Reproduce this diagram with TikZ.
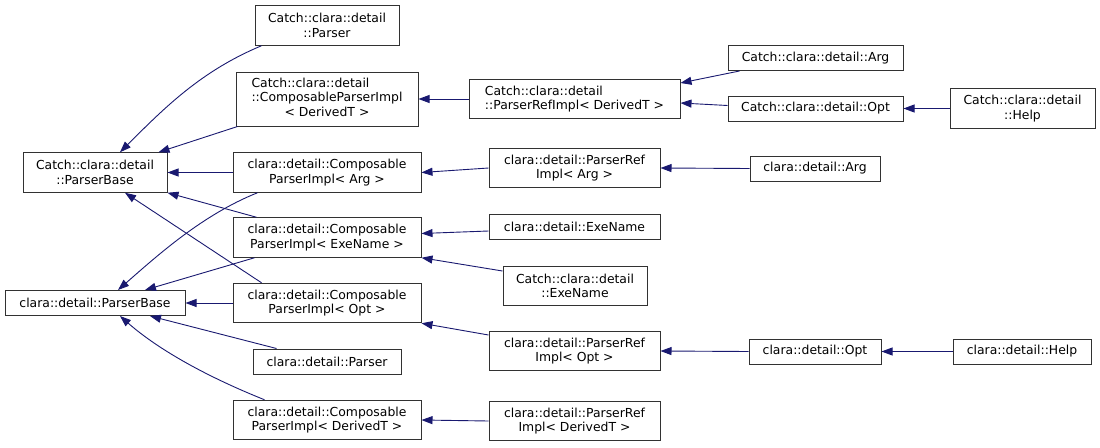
\documentclass[tikz,border=0pt]{standalone}
\usepackage{fontspec}
\setmainfont{DejaVu Sans}
\usepackage{tikz}
\usetikzlibrary{arrows.meta,positioning,calc}
\definecolor{edgeblue}{RGB}{25,25,112}
\definecolor{boxgray}{RGB}{50,50,50}

\begin{document}
\begin{tikzpicture}[
        x=1pt, y=-1pt,
        box/.style={rectangle, draw=boxgray, line width=1pt, fill=white, text=black,
            inner sep=1pt, align=center,
            font=\fontsize{12.4}{14.6}\selectfont},
        one/.style={box, minimum width=#1, minimum height=25pt},
        two/.style={box, minimum width=#1, minimum height=39.5pt},
        inh/.style={draw=edgeblue, line width=0.9pt,
            -{Triangle[length=11pt,width=8pt]}, fill=none}
    ]
        \useasboundingbox (0,0) rectangle (1100,447);

        % bases
        \node[two=144] (cpb) at (95,172.5) {Catch::clara::detail\\::ParserBase};
        \node[one=180] (pb) at (95,303) {clara::detail::ParserBase};

        % first level
        \node[two=144] (cparser) at (327,25.5) {Catch::clara::detail\\::Parser};
        \node[box, minimum width=182, minimum height=54] (ccpi) at (327,99)
            {\begin{tabular}{@{}l@{}}Catch::clara::detail\\::ComposableParserImpl\\\multicolumn{1}{@{}c@{}}{< DerivedT >}\end{tabular}};
        \node[two=188] (cpiarg) at (327,172.5) {clara::detail::Composable\\ParserImpl< Arg >};
        \node[two=188] (cpiexe) at (327,237.5) {clara::detail::Composable\\ParserImpl< ExeName >};
        \node[two=188] (cpiopt) at (327,303) {clara::detail::Composable\\ParserImpl< Opt >};
        \node[one=148] (parser) at (327,361.5) {clara::detail::Parser};
        \node[two=188] (cpider) at (327,420) {clara::detail::Composable\\ParserImpl< DerivedT >};

        % second level
        \node[two=211, align=left] (cpri) at (574.5,99) {Catch::clara::detail\\::ParserRefImpl< DerivedT >};
        \node[two=171] (priarg) at (574.5,168) {clara::detail::ParserRef\\Impl< Arg >};
        \node[one=171] (exename) at (574.5,227) {clara::detail::ExeName};
        \node[two=144] (cexename) at (575,286) {Catch::clara::detail\\::ExeName};
        \node[two=171] (priopt) at (574.5,351) {clara::detail::ParserRef\\Impl< Opt >};
        \node[two=171] (prider) at (574.5,421) {clara::detail::ParserRef\\Impl< DerivedT >};

        % leaves
        \node[one=175] (carg) at (815.5,58) {Catch::clara::detail::Arg};
        \node[one=175] (copt) at (815.5,108.5) {Catch::clara::detail::Opt};
        \node[two=145] (chelp) at (1022.5,108.5) {Catch::clara::detail\\::Help};
        \node[one=130] (arg) at (815,168.5) {clara::detail::Arg};
        \node[one=132] (opt) at (815,351.5) {clara::detail::Opt};
        \node[one=138] (help) at (1022,351.5) {clara::detail::Help};

        % inheritance to Catch::clara::detail::ParserBase
        \draw[inh] ([xshift=7pt]cparser.south west) .. controls +(-60,25) and +(45,-45) .. ([xshift=25pt]cpb.north);
        \draw[inh] ([xshift=2pt]ccpi.south west) -- ([xshift=-9pt]cpb.north east);
        \draw[inh] (cpiarg.west) -- (cpb.east);
        \draw[inh] ([xshift=24pt]cpiexe.north west) -- (cpb.south east);
        \draw[inh] ([xshift=29pt]cpiopt.north west) -- ([xshift=30pt]cpb.south);

        % inheritance to clara::detail::ParserBase
        \draw[inh] ([xshift=25pt]cpiarg.south west) .. controls +(-55,22) and +(40,-35) .. ([xshift=23pt]pb.north);
        \draw[inh] ([xshift=22pt]cpiexe.south west) -- ([xshift=50pt]pb.north);
        \draw[inh] (cpiopt.west) -- (pb.east);
        \draw[inh] ([xshift=24pt]parser.north west) -- ([xshift=55pt]pb.south);
        \draw[inh] ([xshift=32pt]cpider.north west) .. controls +(-55,-22) and +(40,35) .. ([xshift=25pt]pb.south);

        % second level
        \draw[inh] (cpri.west) -- (ccpi.east);
        \draw[inh] (priarg.west) -- (cpiarg.east);
        \draw[inh] ([yshift=-4pt]exename.west) -- ([yshift=4pt]cpiexe.east);
        \draw[inh] ([yshift=15pt]cexename.west) -- (cpiexe.south east);
        \draw[inh] ([yshift=16pt]priopt.west) -- (cpiopt.south east);
        \draw[inh] (prider.west) -- (cpider.east);

        % leaves
        \draw[inh] ([xshift=12pt]carg.south west) -- ([yshift=16pt]cpri.east);
        \draw[inh] ([yshift=3pt]copt.west) -- ([yshift=-4pt]cpri.east);
        \draw[inh] (chelp.west) -- (copt.east);
        \draw[inh] (arg.west) -- (priarg.east);
        \draw[inh] (opt.west) -- (priopt.east);
        \draw[inh] (help.west) -- (opt.east);
    \end{tikzpicture}
\end{document}
